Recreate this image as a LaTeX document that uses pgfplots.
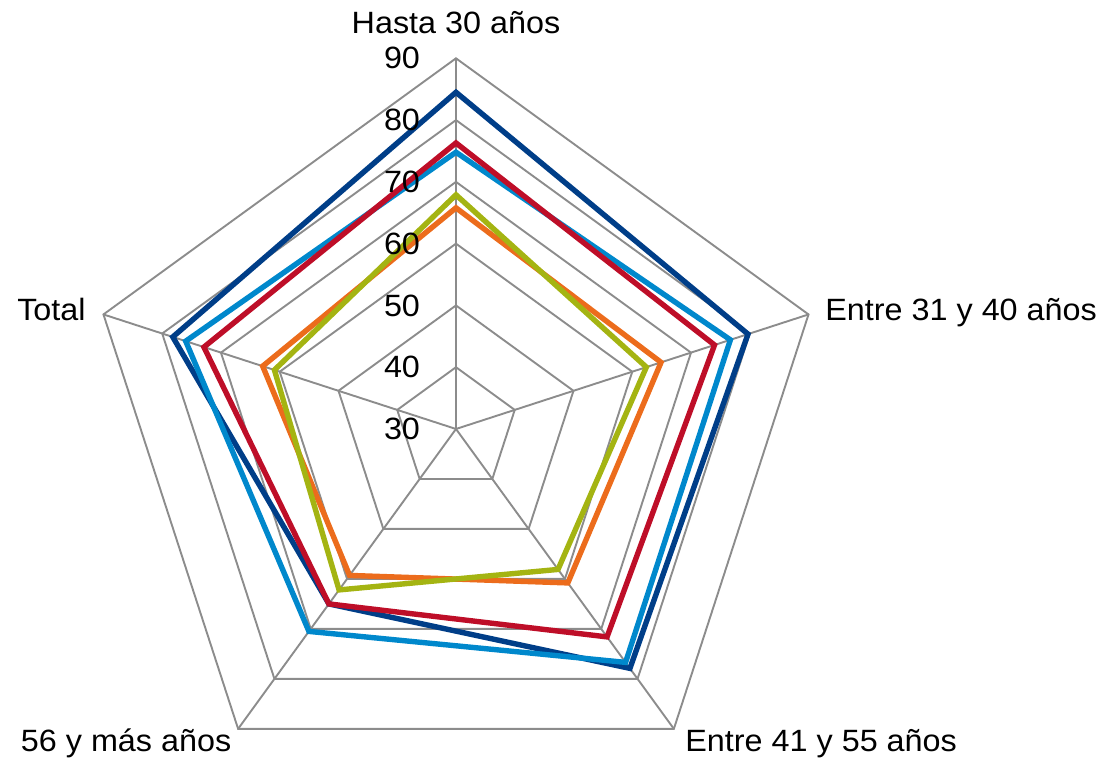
\documentclass[border=0pt]{standalone}
\usepackage{pgfplots}
\pgfplotsset{compat=1.18}
\usepackage{pgfplotstable}
\usepackage{fontspec}
\setmainfont{Liberation Sans}[FakeStretch=1.05]
\definecolor{cdark}{RGB}{0,62,136}
\definecolor{clight}{RGB}{0,136,204}
\definecolor{cred}{RGB}{190,14,40}
\definecolor{corange}{RGB}{236,108,28}
\definecolor{cgreen}{RGB}{164,180,18}
\definecolor{cgrid}{RGB}{140,140,140}

% angle (deg) and values per series
\pgfplotstableread{
a     s1    s2    s3    s4    s5
90    84.5  74.8  76.3  65.8  67.9
18    79.7  76.7  74.0  64.9  62.4
-54   77.9  76.7  71.6  60.8  58.1
-126  65.0  70.5  65.0  59.3  62.2
162   78.2  76.0  72.9  62.9  60.9
}\radardata

\begin{document}
\begin{tikzpicture}[font=\fontsize{15.4}{18}\selectfont]
\begin{axis}[
  scale only axis,
  width=548.5pt, height=379.5pt,
  xmin=-73.81, xmax=103.76,
  ymin=-53.42, ymax=69.44,
  hide axis, clip=false,
]
\path (rel axis cs:0,0) rectangle (rel axis cs:1,1);
% grid pentagons
\pgfplotsinvokeforeach{10,20,30,40,50,60}{
  \draw[cgrid, line width=0.95pt]
    (axis cs:{#1*cos(90)},{#1*sin(90)}) --
    (axis cs:{#1*cos(18)},{#1*sin(18)}) --
    (axis cs:{#1*cos(-54)},{#1*sin(-54)}) --
    (axis cs:{#1*cos(-126)},{#1*sin(-126)}) --
    (axis cs:{#1*cos(162)},{#1*sin(162)}) -- cycle;
}
% spokes
\pgfplotsinvokeforeach{90,18,-54,-126,162}{
  \draw[cgrid, line width=0.95pt] (axis cs:0,0) -- (axis cs:{60*cos(#1)},{60*sin(#1)});
}
% series
\addplot[cdark, line width=2.7pt, line join=miter, mark=none]
  table[x expr={(\thisrow{s1}-30)*cos(\thisrow{a})}, y expr={(\thisrow{s1}-30)*sin(\thisrow{a})}] {\radardata} -- cycle;
\addplot[clight, line width=2.7pt, line join=miter, mark=none]
  table[x expr={(\thisrow{s2}-30)*cos(\thisrow{a})}, y expr={(\thisrow{s2}-30)*sin(\thisrow{a})}] {\radardata} -- cycle;
\addplot[cred, line width=2.7pt, line join=miter, mark=none]
  table[x expr={(\thisrow{s3}-30)*cos(\thisrow{a})}, y expr={(\thisrow{s3}-30)*sin(\thisrow{a})}] {\radardata} -- cycle;
\addplot[corange, line width=2.7pt, line join=miter, mark=none]
  table[x expr={(\thisrow{s4}-30)*cos(\thisrow{a})}, y expr={(\thisrow{s4}-30)*sin(\thisrow{a})}] {\radardata} -- cycle;
\addplot[cgreen, line width=2.7pt, line join=miter, mark=none]
  table[x expr={(\thisrow{s5}-30)*cos(\thisrow{a})}, y expr={(\thisrow{s5}-30)*sin(\thisrow{a})}] {\radardata} -- cycle;
% radial tick labels
\pgfplotsinvokeforeach{30,40,50,60,70,80,90}{
  \node[inner sep=0pt, anchor=center] at (axis cs:-8.74,{#1-30}) {#1};
}
% category labels
\node[inner sep=0pt, anchor=base] at (axis cs:0,63.94) {Hasta 30 años};
\node[inner sep=0pt, anchor=base west] at (axis cs:59.73,17.64) {Entre 31 y 40 años};
\node[inner sep=0pt, anchor=base west] at (axis cs:37.07,-52.23) {Entre 41 y 55 años};
\node[inner sep=0pt, anchor=base east] at (axis cs:-36.31,-52.23) {56 y más años};
\node[inner sep=0pt, anchor=base east] at (axis cs:-59.89,17.64) {Total};
\end{axis}
\end{tikzpicture}
\end{document}
